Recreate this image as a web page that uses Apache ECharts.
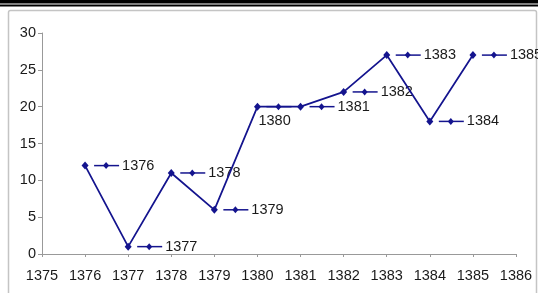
<!DOCTYPE html>
<html>
<head>
<meta charset="utf-8">
<script src="https://cdn.jsdelivr.net/npm/echarts@6/dist/echarts.min.js"></script>
<style>
  html, body { margin: 0; padding: 0; background: #fff; }
  #chart { width: 538px; height: 293px; }
</style>
</head>
<body>
<div id="chart"></div>
<script>
// data
const years = [1376, 1377, 1378, 1379, 1380, 1381, 1382, 1383, 1384, 1385];
const values = [12, 1, 11, 6, 20, 20, 22, 27, 18, 27];
const xTicks = [1375, 1386];
const yTicks = [0, 30];

const navy = "#14148e";
const font = "Liberation Sans, Arial, sans-serif";

let myChart = echarts.init(document.getElementById("chart"));

// excel-style data labels: legend key + year, text below for 1380
function renderKey(params, api) {
  const pt = api.coord([api.value(0), api.value(1)]);
  const year = String(api.value(0));
  const below = year === "1380";
  const x = pt[0], y = pt[1];
  const mx = x + 21;
  return {
    type: "group",
    children: [
      {
        type: "line",
        shape: { x1: x + 9, y1: y, x2: x + 34, y2: y },
        style: { stroke: navy, lineWidth: 1.5 },
      },
      {
        type: "polygon",
        shape: { points: [[mx, y - 3.5], [mx + 3, y], [mx, y + 3.5], [mx - 3, y]] },
        style: { fill: navy },
      },
      {
        type: "text",
        x: below ? x + 1 : x + 37,
        y: below ? y + 14 : y,
        style: {
          text: year,
          fill: "#1a1a1a",
          font: "14.5px " + font,
          textAlign: "left",
          textVerticalAlign: "middle",
        },
      },
    ],
  };
}

const option = {
  animation: false,
  grid: { left: 42, right: 22, top: 33, bottom: 39 },
  graphic: [
    { type: "rect", shape: { x: 0, y: 0, width: 538, height: 3.5 }, style: { fill: "#000" } },
    { type: "rect", shape: { x: 0, y: 4.5, width: 538, height: 2 }, style: { fill: "#000" } },
    {
      type: "rect",
      shape: { x: 8.5, y: 10.5, width: 528, height: 290, r: 2 },
      style: { fill: "none", stroke: "#c4c4c4", lineWidth: 1.5 },
    },
  ],
  xAxis: {
    type: "value",
    min: xTicks[0],
    max: xTicks[1],
    interval: 1,
    splitLine: { show: false },
    axisLine: { lineStyle: { color: "#999", width: 1 } },
    axisTick: { show: true, length: 3, lineStyle: { color: "#999" } },
    axisLabel: {
      color: "#1a1a1a",
      fontSize: 14.5,
      fontFamily: font,
      margin: 14,
      formatter: (v) => String(v),
    },
  },
  yAxis: {
    type: "value",
    min: yTicks[0],
    max: yTicks[1],
    interval: 5,
    splitLine: { show: false },
    axisLine: { show: true, lineStyle: { color: "#999", width: 1 } },
    axisTick: { show: true, length: 4, lineStyle: { color: "#999" } },
    axisLabel: { color: "#1a1a1a", fontSize: 14.5, fontFamily: font, margin: 6 },
  },
  series: [
    {
      type: "line",
      data: years.map((y, i) => [y, values[i]]),
      symbol: "diamond",
      symbolSize: [7, 8],
      itemStyle: { color: navy },
      lineStyle: { color: navy, width: 1.75 },
    },
    {
      type: "custom",
      data: years.map((y, i) => [y, values[i]]),
      renderItem: renderKey,
      z: 3,
    },
  ],
};
myChart.setOption(option);
</script>
</body>
</html>
